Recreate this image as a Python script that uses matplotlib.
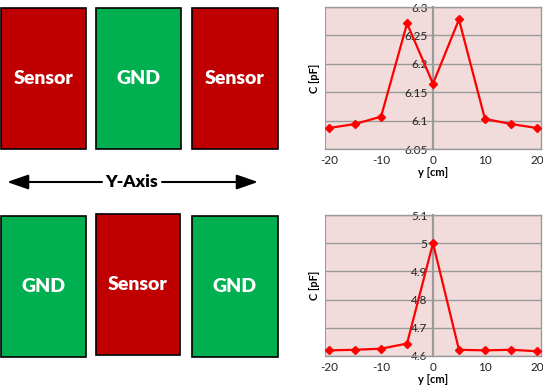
import matplotlib
matplotlib.use("Agg")
import matplotlib.pyplot as plt
from matplotlib.patches import Rectangle

plt.rcParams['font.family'] = ['Lato', 'DejaVu Sans']

# Data
y_pos = [-20, -15, -10, -5, 0, 5, 10, 15, 20]
cap_top = [6.087, 6.094, 6.107, 6.271, 6.165, 6.278, 6.103, 6.094, 6.087]
cap_bottom = [4.620, 4.622, 4.626, 4.644, 5.000, 4.622, 4.620, 4.622, 4.617]
top_labels = ["Sensor", "GND", "Sensor"]
bottom_labels = ["GND", "Sensor", "GND"]
top_yticks = [6.05, 6.1, 6.15, 6.2, 6.25, 6.3]
top_yticklabels = ["6.05", "6.1", "6.15", "6.2", "6.25", "6.3"]
bottom_yticks = [4.6, 4.7, 4.8, 4.9, 5.0, 5.1]
bottom_yticklabels = ["4.6", "4.7", "4.8", "4.9", "5", "5.1"]
x_ticks = [-20, -10, 0, 10, 20]

W, H = 543, 387
RED = "#C00000"
GREEN = "#00B050"
colors = {"Sensor": RED, "GND": GREEN}

fig = plt.figure(figsize=(W / 100, H / 100), dpi=100)

# Diagram axes in pixel coordinates
ax0 = fig.add_axes([0, 0, 1, 1])
ax0.set_xlim(0, W)
ax0.set_ylim(H, 0)
ax0.axis("off")

top_boxes = [(1, 8, 85, 141), (96, 8, 85, 141), (192, 8, 86, 141)]
bot_boxes = [(0.5, 216, 85.5, 141), (96, 214, 84, 141), (192, 216, 86, 141)]
for boxes, labels in ((top_boxes, top_labels), (bot_boxes, bottom_labels)):
    for (x, y, w, h), lab in zip(boxes, labels):
        ax0.add_patch(Rectangle((x, y), w, h, facecolor=colors[lab], edgecolor="black", lw=1.2))
        ax0.text(x + w / 2, y + h / 2, lab, color="white", fontsize=14, fontweight="heavy",
                 ha="center", va="center")

ay = 182
ax0.text(132, ay, "Y-Axis", fontsize=12.5, fontweight="heavy", ha="center", va="center")
arrow_kw = dict(arrowstyle="-|>,head_length=1.3,head_width=0.45", color="black", lw=1.5,
                shrinkA=0, shrinkB=0)
ax0.annotate("", xy=(7, ay), xytext=(102, ay), arrowprops=arrow_kw)
ax0.annotate("", xy=(258, ay), xytext=(162, ay), arrowprops=arrow_kw)


def make_chart(rect_px, yvals, yticks, yticklabels, ylim):
    l, t, r, b = rect_px
    ax = fig.add_axes([l / W, (H - b) / H, (r - l) / W, (b - t) / H])
    ax.set_facecolor("#F2DCDB")
    ax.set_xlim(-20.8, 20.8)
    ax.set_ylim(*ylim)
    ax.set_yticks(yticks)
    ax.set_yticklabels(yticklabels)
    ax.set_xticks(x_ticks)
    ax.set_xticklabels([str(v) for v in x_ticks])
    ax.grid(axis="y", color="#9A9A9A", lw=1)
    ax.set_axisbelow(True)
    for s in ["top", "right", "bottom"]:
        ax.spines[s].set_color("#9A9A9A")
        ax.spines[s].set_linewidth(1)
    ax.spines["left"].set_position(("data", 0))
    ax.spines["left"].set_color("#9A9A9A")
    ax.spines["left"].set_linewidth(1.6)
    ax.axvline(-20.8, color="#9A9A9A", lw=1.5)
    ax.tick_params(axis="y", length=0, pad=4, labelsize=8.5, labelcolor="#222222")
    ax.tick_params(axis="x", length=0, pad=4, labelsize=8.5, labelcolor="#222222")
    ax.plot(y_pos, yvals, color="#FF0000", lw=1.6, marker="D", markersize=4, zorder=5,
            clip_on=False)
    ax.set_xlabel("y [cm]", fontsize=8, fontweight="bold", labelpad=1)
    ax.text(-0.05, 0.5, "C [pF]", transform=ax.transAxes, rotation=90, fontsize=8,
            fontweight="bold", ha="center", va="center")
    return ax


make_chart((325, 7, 541, 149), cap_top, top_yticks, top_yticklabels, (6.05, 6.3))
make_chart((325, 215, 541, 356), cap_bottom, bottom_yticks, bottom_yticklabels, (4.6, 5.1))

fig.savefig("out.png", dpi=100)
